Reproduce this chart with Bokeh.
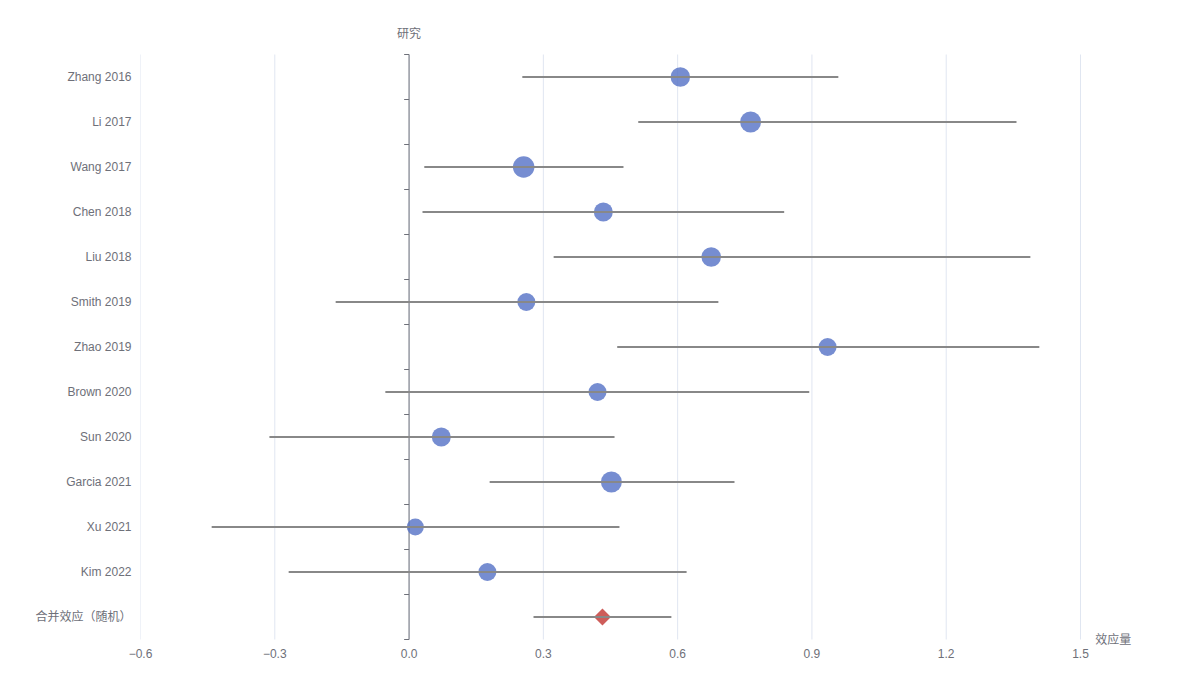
from bokeh.plotting import figure
from bokeh.models import Range1d, FixedTicker, CustomJSTickFormatter, ColumnDataSource
from bokeh.core.properties import value
from bokeh.embed import file_html
from bokeh.resources import INLINE

studies = ["Zhang 2016", "Li 2017", "Wang 2017", "Chen 2018", "Liu 2018", "Smith 2019",
           "Zhao 2019", "Brown 2020", "Sun 2020", "Garcia 2021", "Xu 2021", "Kim 2022"]
effect = [0.606, 0.763, 0.256, 0.434, 0.675, 0.262, 0.935, 0.421, 0.072, 0.452, 0.014, 0.175]
lower = [0.253, 0.512, 0.034, 0.030, 0.323, -0.164, 0.465, -0.053, -0.312, 0.180, -0.441, -0.269]
upper = [0.959, 1.357, 0.479, 0.838, 1.388, 0.691, 1.408, 0.894, 0.459, 0.727, 0.470, 0.620]
weight = [19.5, 21, 21.5, 19, 19.5, 18, 18, 18, 19, 21, 17, 18]

pooled_label = "合并效应（随机）"
pooled_effect = 0.432
pooled_lower = 0.278
pooled_upper = 0.586

x_ticks = [-0.6, -0.3, 0.0, 0.3, 0.6, 0.9, 1.2, 1.5]
y_axis_name = "研究"
x_axis_name = "效应量"

all_labels = studies + [pooled_label]
n = len(all_labels)
ypos = [i + 0.5 for i in range(len(studies))]
pooled_y = len(studies) + 0.5

FONT = "Liberation Sans, Noto Sans CJK SC, sans-serif"
TXT = "#6e7079"

TOP, BOTTOM = 21, 34
span = (680 - TOP - BOTTOM) / 45.0
y_end = -33 / 45.0
# frame extended a little beyond the value area so the axis names fit inside it
p = figure(width=1200, height=680, output_backend="svg", toolbar_location=None,
           x_range=Range1d(-0.6, 1.5 + 60 / 447.62), y_range=Range1d(y_end + span, y_end),
           min_border_left=140, min_border_right=60, min_border_top=TOP, min_border_bottom=BOTTOM)
p.outline_line_color = None
p.background_fill_color = "white"
p.border_fill_color = "white"
p.xgrid.grid_line_color = None
p.ygrid.grid_line_color = None

# vertical grid lines over the value area
p.segment(x0=x_ticks, x1=x_ticks, y0=[0] * len(x_ticks), y1=[n] * len(x_ticks),
          line_color="#e0e6f1", line_width=1)

# x axis
xa = p.xaxis[0]
xa.ticker = FixedTicker(ticks=x_ticks)
xa.formatter = CustomJSTickFormatter(code="return (tick < -1e-9 ? '\u2212' : '') + Math.abs(tick).toFixed(1);")
xa.axis_line_color = None
xa.major_tick_line_color = None
xa.minor_tick_line_color = None
xa.major_label_text_font = FONT
xa.major_label_text_font_size = "12px"
xa.major_label_text_color = TXT
xa.major_label_standoff = -4

# y axis (labels only)
ya = p.yaxis[0]
ya.ticker = FixedTicker(ticks=ypos + [pooled_y])
ya.major_label_overrides = {y: lab for y, lab in zip(ypos + [pooled_y], all_labels)}
ya.axis_line_color = None
ya.major_tick_line_color = None
ya.minor_tick_line_color = None
ya.major_label_text_font = FONT
ya.major_label_text_font_size = "12px"
ya.major_label_text_color = TXT
ya.major_label_standoff = 3

# axis line at zero with boundary ticks
bounds = list(range(n + 1))
p.segment(x0=[0], x1=[0], y0=[0], y1=[n], line_color=TXT, line_width=1)
p.segment(x0=[0] * len(bounds), x1=[-0.011] * len(bounds), y0=bounds, y1=bounds,
          line_color=TXT, line_width=1)

# study points
src = ColumnDataSource(dict(y=ypos, e=effect, lo=lower, hi=upper, w=weight))
p.scatter(x="e", y="y", size="w", source=src, marker="circle",
          fill_color="#5470c6", fill_alpha=0.8, line_color=None)
p.segment(x0="lo", x1="hi", y0="y", y1="y", source=src, line_color="#888888", line_width=2)

# pooled
p.scatter(x=[pooled_effect], y=[pooled_y], marker="square", angle=0.7854, size=12,
          fill_color="#c23531", fill_alpha=0.8, line_color=None)
p.segment(x0=[pooled_lower], x1=[pooled_upper], y0=[pooled_y], y1=[pooled_y],
          line_color="#888888", line_width=2)

# axis names
p.text(x=[0], y=[-0.46], text=[y_axis_name], text_font=value(FONT), text_font_size="12px",
       text_color=TXT, text_align="center", text_baseline="middle")
p.text(x=[1.573], y=[n + 0.02], text=[x_axis_name], text_font=value(FONT), text_font_size="12px",
       text_color=TXT, text_align="center", text_baseline="middle")

open("out.html", "w").write(file_html(p, INLINE))
